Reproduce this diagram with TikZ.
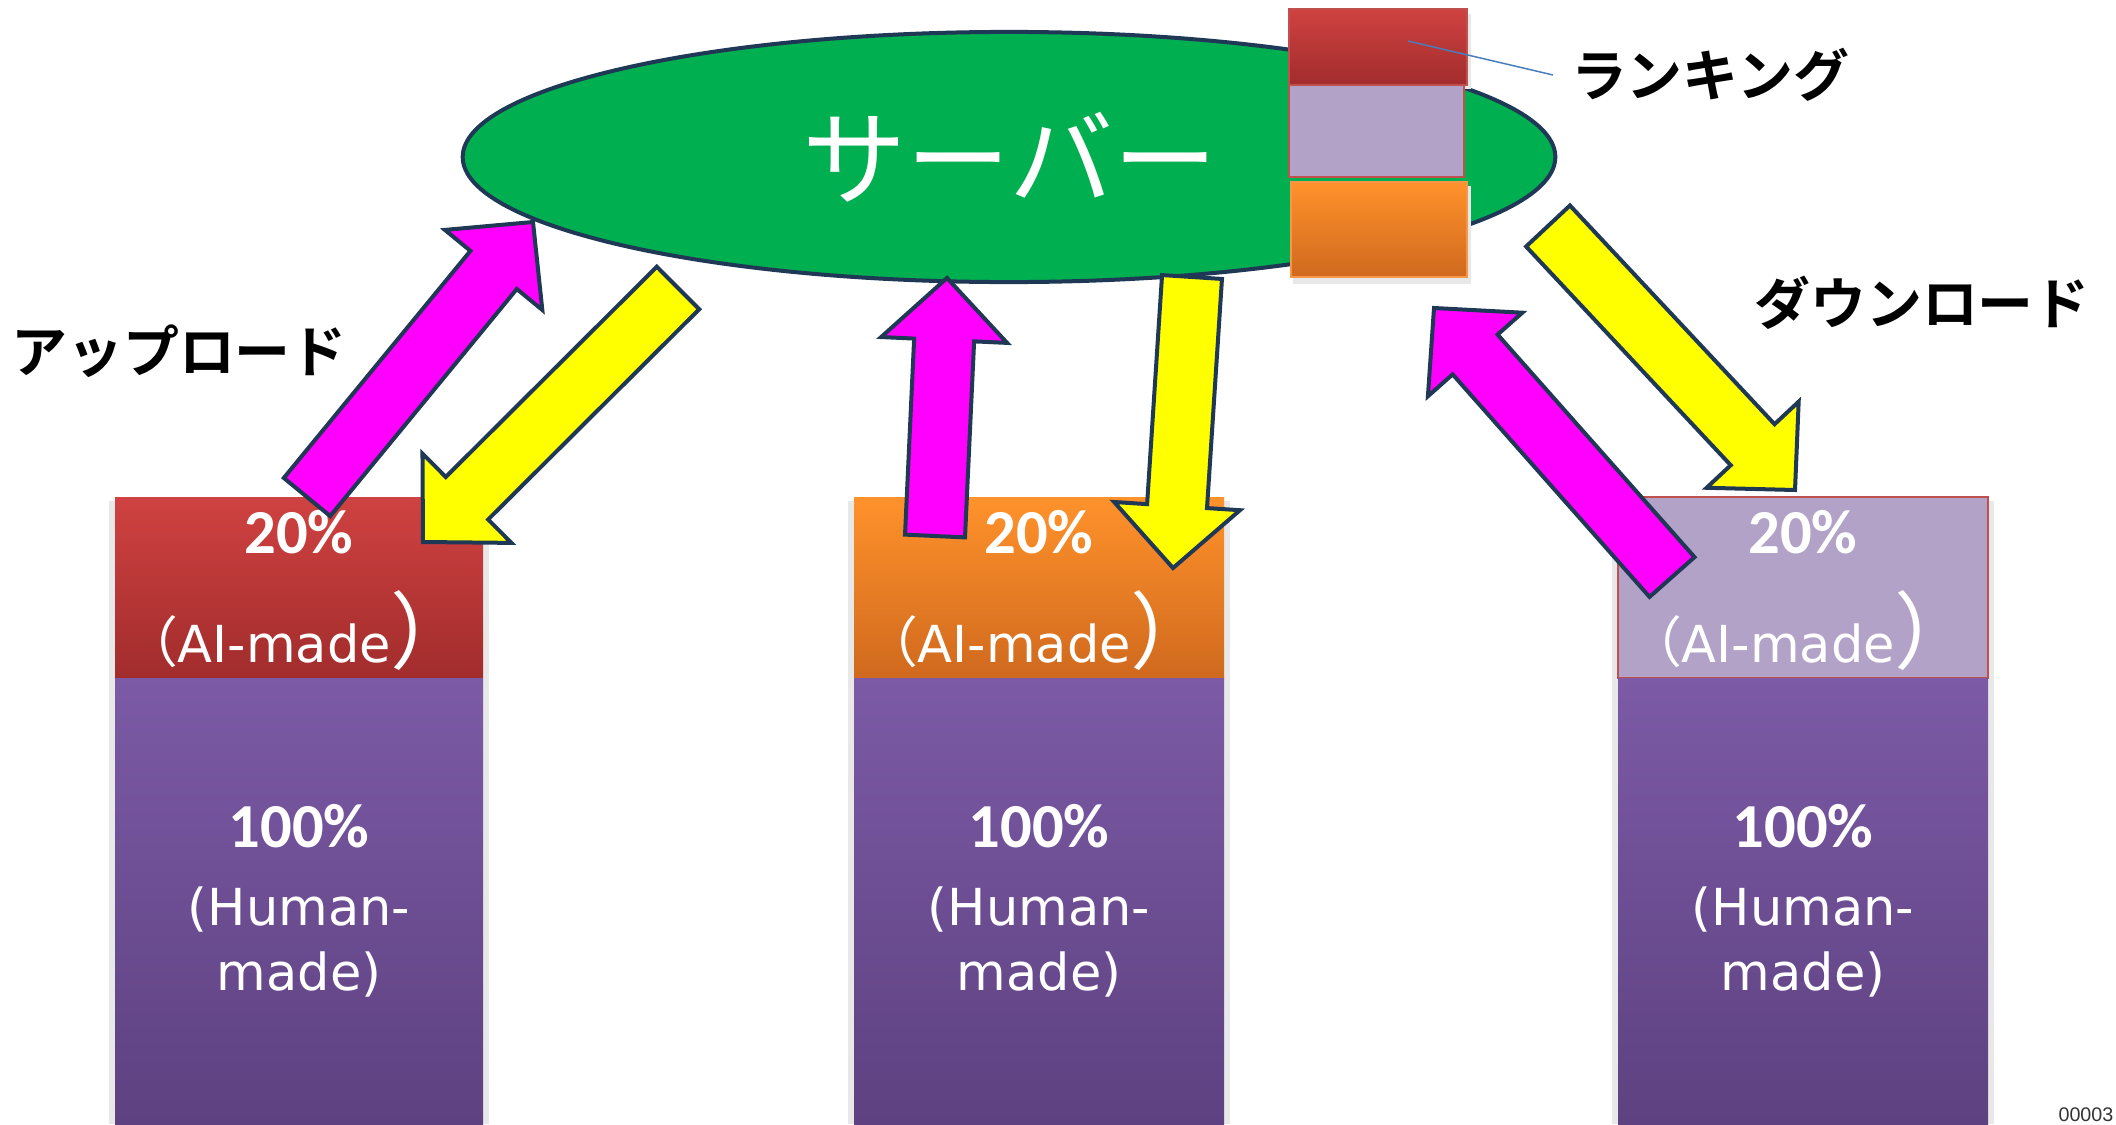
\documentclass[tikz,border=0pt]{standalone}
\usepackage{fontspec}
\usetikzlibrary{calc,shapes.geometric}

\newfontfamily\jpfont{Noto Sans CJK JP}
\newfontfamily\jpboldfont{Noto Sans CJK JP Bold}
\newfontfamily\numfont{Carlito}
\newfontfamily\latfont{DejaVu Sans}
\newfontfamily\smallfont{Liberation Sans}

\definecolor{navy}{HTML}{1F3856}
\definecolor{srvgreen}{HTML}{00B050}
\definecolor{redtop}{HTML}{CF4241}
\definecolor{redbot}{HTML}{A22C2C}
\definecolor{orgtop}{HTML}{FF922B}
\definecolor{orgbot}{HTML}{D0691E}
\definecolor{orgline}{HTML}{F79646}
\definecolor{lav}{HTML}{B2A2C7}
\definecolor{purtop}{HTML}{7C5AA6}
\definecolor{purbot}{HTML}{5D4180}
\definecolor{boxred}{HTML}{C0504D}
\definecolor{linkblue}{HTML}{4A7EBB}
\definecolor{upfill}{HTML}{FF00FF}
\definecolor{downfill}{HTML}{FFFF00}

\tikzset{
  arrowbody/.style={draw=navy, line width=0.04cm, miter limit=10},
  aired/.style={top color=redtop, bottom color=redbot},
  aiorange/.style={top color=orgtop, bottom color=orgbot},
  ailav/.style={fill=lav, draw=boxred, line width=0.015cm},
  humanpart/.style={top color=purtop, bottom color=purbot},
  softshadow/.style={fill=black!9},
  pct/.style={text=white, inner sep=0, anchor=base,
    font=\numfont\bfseries\fontsize{17.8pt}{18pt}\selectfont},
  lat/.style={text=white, inner sep=0, anchor=base,
    font=\latfont\fontsize{14.5pt}{18pt}\selectfont},
  kana/.style={text=black, inner sep=0,
    font=\jpboldfont\fontsize{15.9pt}{16pt}\selectfont},
}

% block arrow from (#1-tail) to (#1-tip)
\newcommand\blockarrow[2]{%
  \coordinate (#1-hb) at ($(#1-tip)!0.62cm!(#1-tail)$);
  \filldraw[arrowbody, fill=#2]
    ($(#1-tail)!0.30cm!90:(#1-tip)$)
    -- ($(#1-hb)!0.30cm!-90:(#1-tail)$)
    -- ($(#1-hb)!0.63cm!-90:(#1-tail)$)
    -- (#1-tip)
    -- ($(#1-hb)!0.63cm!90:(#1-tail)$)
    -- ($(#1-hb)!0.30cm!90:(#1-tail)$)
    -- ($(#1-tail)!0.30cm!-90:(#1-tip)$)
    -- cycle;
}

% stacked bar: #1 name, #2 left, #3 right, #4 style of the upper part
\newcommand\stackbar[4]{%
  \pgfmathsetmacro\barmid{(#2+#3)/2}
  \fill[softshadow] (#2-6,501) rectangle (#3+6,1124);
  \path[#4] (#2,497) rectangle (#3,678);
  \path[humanpart] (#2,678) rectangle (#3,1124);
  \node[pct] (#1-aipct) at (\barmid,553) {20\%};
  \node[lat] (#1-ai) at (\barmid,662)
    {{\jpfont\fontsize{15.6pt}{16pt}\selectfont （}AI-made{\jpfont\fontsize{23.9pt}{24pt}\selectfont ）}};
  \node[pct] (#1-hpct) at (\barmid,847) {100\%};
  \node[lat] (#1-h1) at (\barmid,925) {(Human-};
  \node[lat] (#1-h2) at (\barmid,990) {made)};
}

\begin{document}
\begin{tikzpicture}[x=0.01cm,y=-0.01cm]
\useasboundingbox (0,0) rectangle (2116,1124);
\begin{scope}
\clip (0,0) rectangle (2116,1124);
\fill[white] (0,0) rectangle (2116,1124);

% server
\node[ellipse, draw=navy, line width=0.04cm, fill=srvgreen,
      minimum width=10.92cm, minimum height=2.50cm, inner sep=0] (server) at (1009,157) {};
\node[text=white, inner sep=0, font=\jpfont\fontsize{29.6pt}{30pt}\selectfont]
  (serverlabel) at (1010,157) {サーバー};

% ranking stack
\fill[softshadow] (1293,14) rectangle (1471,89);
\fill[softshadow] (1293,186) rectangle (1471,284);
\path[aired, draw=boxred, line width=0.012cm] (1289,9) rectangle (1467,85);
\path[ailav] (1289,85) rectangle (1464,177);
\path[aiorange, draw=orgline, line width=0.012cm] (1291,182) rectangle (1467,277);
\coordinate (rank-a) at (1408,41);
\coordinate (rank-b) at (1553,75);
\draw[linkblue, line width=0.015cm] (rank-a) -- (rank-b);
\node[kana] (ranking) at (1710,75) {ランキング};

% labels
\node[kana] (upload) at (179,351) {アップロード};
\node[kana] (download) at (1922,303) {ダウンロード};

% bars
\stackbar{left}{115}{483}{aired}
\stackbar{mid}{854}{1224}{aiorange}
\stackbar{right}{1618}{1988}{ailav}

% arrows
\coordinate (upL-tail) at (307,497);   \coordinate (upL-tip) at (533,222);
\coordinate (dnL-tail) at (678,288);   \coordinate (dnL-tip) at (423,542);
\coordinate (upM-tail) at (935,536);   \coordinate (upM-tip) at (947,278);
\coordinate (dnM-tail) at (1192,277);  \coordinate (dnM-tip) at (1173,568);
\coordinate (dnR-tail) at (1548,226);  \coordinate (dnR-tip) at (1795,490);
\coordinate (upR-tail) at (1672,577);  \coordinate (upR-tip) at (1434,308);
\blockarrow{upL}{upfill}
\blockarrow{dnL}{downfill}
\blockarrow{upM}{upfill}
\blockarrow{dnM}{downfill}
\blockarrow{dnR}{downfill}
\blockarrow{upR}{upfill}

% page number
\node[anchor=south east, inner sep=0, text=black!80,
      font=\smallfont\fontsize{5.6pt}{6pt}\selectfont] (pageno) at (2114,1122) {00003};
\end{scope}
\end{tikzpicture}
\end{document}
